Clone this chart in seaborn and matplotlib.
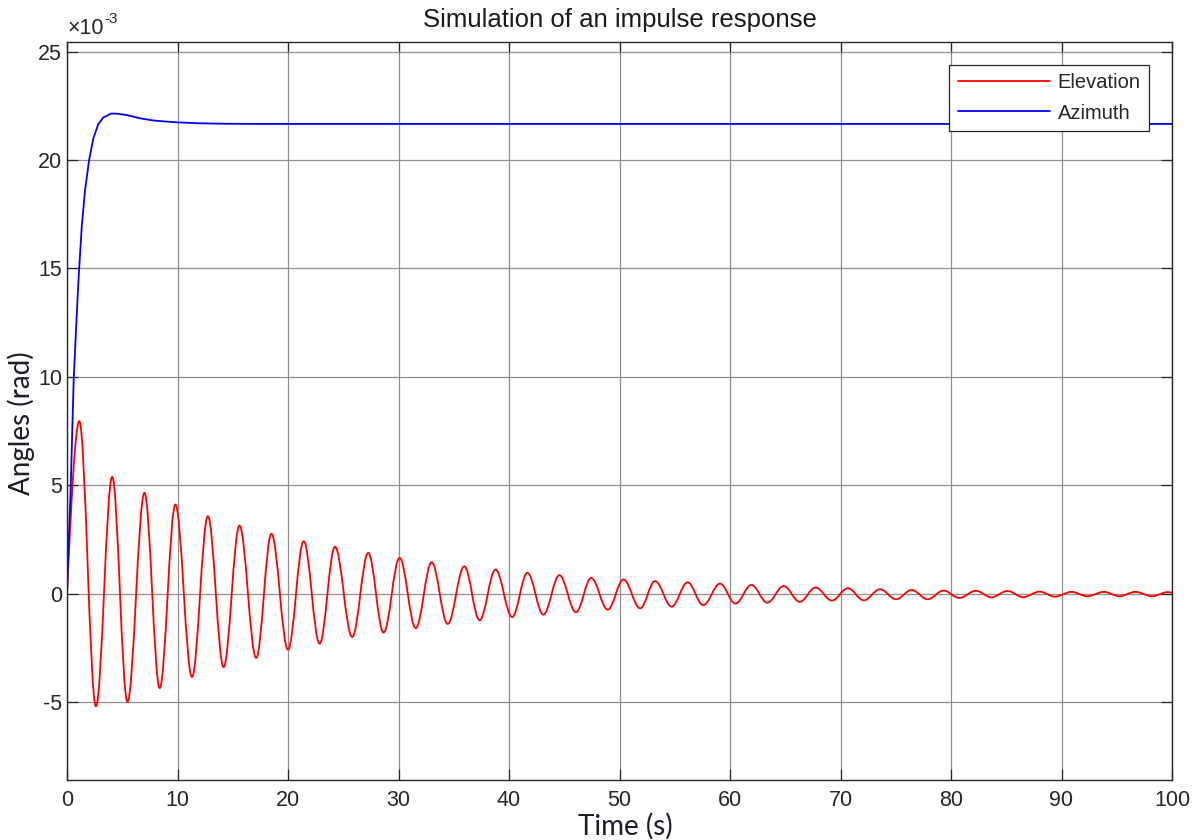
import matplotlib
matplotlib.use("Agg")
import matplotlib.pyplot as plt
import seaborn as sns
import pandas as pd
from matplotlib.path import Path
from matplotlib.patches import PathPatch
from matplotlib.lines import Line2D
from matplotlib.ticker import FuncFormatter

# ---------------- data (angles in units of 1e-3 rad, time in s) ----------------
# Elevation: start / end points and the peaks & troughs
elev_start = (0.0, 0.0)
elev_end = (100.0, 0.05)
peak_t = [1.11, 4.09, 7.01, 9.81, 12.75, 15.61, 18.50, 21.42, 24.25, 27.26,
          30.10, 33.00, 35.95, 38.78, 41.67, 44.56, 47.44, 50.36, 53.22, 56.16,
          59.09, 61.94, 64.86, 67.75, 70.67, 73.58, 76.44, 79.33, 82.25, 85.10,
          88.02, 90.91, 93.84, 96.69, 99.62]
peak_v = [7.96, 5.39, 4.65, 4.11, 3.57, 3.14, 2.76, 2.42, 2.16, 1.88,
          1.65, 1.45, 1.26, 1.11, 0.96, 0.85, 0.72, 0.65, 0.58, 0.52,
          0.46, 0.40, 0.35, 0.28, 0.25, 0.20, 0.17, 0.14, 0.13, 0.12,
          0.09, 0.08, 0.08, 0.08, 0.07]
trough_t = [2.62, 5.47, 8.39, 11.31, 14.17, 17.12, 20.00, 22.86, 25.81, 28.65,
            31.56, 34.45, 37.34, 40.28, 43.11, 46.06, 48.94, 51.87, 54.72, 57.58,
            60.50, 63.38, 66.31, 69.22, 72.11, 75.03, 77.89, 80.75, 83.66, 86.53,
            89.41, 92.33, 95.25, 98.19]
trough_v = [-5.20, -5.00, -4.36, -3.85, -3.39, -2.97, -2.59, -2.31, -2.00, -1.80,
            -1.59, -1.40, -1.23, -1.08, -0.97, -0.86, -0.74, -0.68, -0.60, -0.53,
            -0.46, -0.42, -0.38, -0.32, -0.31, -0.26, -0.26, -0.20, -0.17, -0.16,
            -0.14, -0.12, -0.12, -0.12]

# Azimuth samples
azim_t = [0, 0.15, 0.33, 0.45, 0.60, 0.80, 0.98, 1.10, 1.33, 1.63, 2.00, 2.38,
          2.83, 3.30, 4.00, 4.60, 5.40, 6.60, 7.80, 8.90, 10.1, 12.0, 14.0, 17.0,
          20.0, 30.0, 50.0, 100.0]
azim_v = [0, 2.3, 4.8, 7.0, 9.8, 12.0, 13.9, 15.0, 16.9, 18.6, 20.0, 21.0,
          21.66, 21.97, 22.15, 22.14, 22.08, 21.93, 21.83, 21.78, 21.74, 21.70,
          21.68, 21.67, 21.67, 21.67, 21.67, 21.67]

x_ticks = [0, 10, 20, 30, 40, 50, 60, 70, 80, 90, 100]
y_ticks = [-5, 0, 5, 10, 15, 20, 25]
title = "Simulation of an impulse response"
xlabel = "Time (s)"
ylabel = "Angles (rad)"
series_names = ["Elevation", "Azimuth"]

# ---------------- style ----------------
sns.set_theme(style="white")
plt.rcParams["font.family"] = ["Liberation Sans", "DejaVu Sans"]
plt.rcParams["axes.unicode_minus"] = False
TXT = "#262626"

W, H = 1203, 840
fig = plt.figure(figsize=(W / 100, H / 100), dpi=100)
L, R, T, B = 67, 1172, 42, 780
ax = fig.add_axes([L / W, 1 - B / H, (R - L) / W, (B - T) / H])

# Elevation: smooth curve through the read extrema (horizontal tangents at extrema)
pts = [elev_start] + sorted(list(zip(peak_t, peak_v)) + list(zip(trough_t, trough_v))) + [elev_end]
verts = [pts[0]]
codes = [Path.MOVETO]
k = 0.364
for i in range(len(pts) - 1):
    (ta, va), (tb, vb) = pts[i], pts[i + 1]
    dt = tb - ta
    if i == 0:
        c1 = (ta + 0.318 * dt, va + 0.5 * (vb - va))
        c2 = (tb - 0.318 * dt, vb)
    else:
        c1 = (ta + k * dt, va)
        c2 = (tb - k * dt, vb)
    verts += [c1, c2, (tb, vb)]
    codes += [Path.CURVE4] * 3
LW = 1.3
elev_patch = PathPatch(Path(verts, codes), facecolor="none", edgecolor="#ff0000",
                       lw=LW, zorder=2.0, capstyle="round", joinstyle="round")
ax.add_patch(elev_patch)

# Azimuth via seaborn
azim_df = pd.DataFrame({"t": azim_t, "v": azim_v})
sns.lineplot(data=azim_df, x="t", y="v", color="#0000ff", lw=LW, ax=ax,
             zorder=2.1, label=series_names[1])

ax.set_xlim(0, 100)
ax.set_ylim(-8.6, 25.45)
ax.set_xticks(x_ticks)
ax.set_yticks(y_ticks)
ax.yaxis.set_major_formatter(FuncFormatter(lambda v, p: f"{v:g}"))

ax.set_axisbelow(True)
ax.grid(True, color="#8f8f8f", lw=0.9)
for s in ax.spines.values():
    s.set_visible(True)
    s.set_color(TXT)
    s.set_linewidth(1.0)
ax.tick_params(direction="in", length=8, width=0.9, color=TXT, labelcolor=TXT,
               labelsize=15.5, top=True, right=True, bottom=True, left=True)
ax.tick_params(axis="x", pad=7)
ax.tick_params(axis="y", pad=3.6)

ax.set_title(title, fontsize=18.5, color="#1a1a1a", pad=11)

lab_font = dict(family=["Lato", "DejaVu Sans"], fontsize=20, color="#1c1c2a")
ax.set_xlabel(xlabel, **lab_font)
ax.set_ylabel(ylabel, **lab_font)
ax.xaxis.set_label_coords(0.505, -0.045)
ax.yaxis.set_label_coords(-0.029, 0.483)

# exponent label
t1 = fig.text(68 / W, 1 - 34 / H, "×10", fontsize=15.5, color=TXT, ha="left", va="baseline")
ax.annotate("-3", xy=(1.0, 0.62), xycoords=t1, fontsize=11, color=TXT,
            ha="left", va="bottom")

handles = [Line2D([], [], color="#ff0000", lw=LW), ax.get_lines()[-1]]
leg = ax.legend(handles, series_names, loc="upper right",
                bbox_to_anchor=((1149 - L) / (R - L), (B - 65) / (B - T)),
                borderaxespad=0, frameon=True, fancybox=False, framealpha=1,
                edgecolor=TXT, fontsize=14.5, handlelength=4.6, handletextpad=0.35,
                labelspacing=0.55, borderpad=0.42)
leg.get_frame().set_linewidth(0.9)
for txt in leg.get_texts():
    txt.set_color(TXT)

fig.savefig("out.png", dpi=100)
